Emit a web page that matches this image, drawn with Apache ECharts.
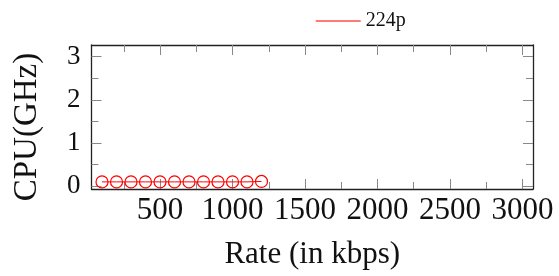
<!DOCTYPE html>
<html>
<head>
<meta charset="utf-8">
<script src="https://cdn.jsdelivr.net/npm/echarts@6/dist/echarts.min.js"></script>
<style>
  html, body { margin: 0; padding: 0; background: #fff; }
  #main { width: 559px; height: 276px; }
</style>
</head>
<body>
<div id="main"></div>
<script>
// 数据：码率 (kbps) 与 CPU 占用 (GHz)
var rates = [100, 200, 300, 400, 500, 600, 700, 800, 900, 1000, 1100, 1200];
var cpu224 = [0.1, 0.1, 0.1, 0.1, 0.1, 0.1, 0.1, 0.1, 0.1, 0.1, 0.1, 0.11];
var xMajor = [500, 1000, 1500, 2000, 2500, 3000];
var xMinor = [250, 750, 1250, 1750, 2250, 2750];
var yMajor = [0, 1, 2, 3];
var yMinor = [0.5, 1.5, 2.5];

var serif = 'Liberation Serif';
var xRange = { min: 27.5, max: 3072.5 };
var yRange = { min: -0.065, max: 3.27 };

// 生成一条只画刻度的辅助轴
function tickAxis(range, pos, values, len, showLine) {
    return {
        type: 'value',
        position: pos,
        min: range.min,
        max: range.max,
        axisLine: { show: showLine, onZero: false, lineStyle: { color: '#222', width: 1.3 } },
        axisTick: { show: true, inside: true, length: len, customValues: values,
            lineStyle: { color: '#888', width: 1 } },
        axisLabel: { show: false },
        splitLine: { show: false }
    };
}

function plain(v) { return String(v); }

var chart = echarts.init(document.getElementById('main'));

var xMain = tickAxis(xRange, 'bottom', xMajor, 10, true);
xMain.axisLabel = { show: true, customValues: xMajor, margin: 6, formatter: plain,
    fontFamily: serif, fontSize: 31, color: '#111' };
xMain.name = 'Rate (in kbps)';
xMain.nameLocation = 'middle';
xMain.nameGap = 50;
xMain.nameTextStyle = { fontFamily: serif, fontSize: 31, color: '#111' };

var yMain = tickAxis(yRange, 'left', yMajor, 10, true);
yMain.axisLabel = { show: true, customValues: yMajor, margin: 11, formatter: plain,
    fontFamily: serif, fontSize: 27, color: '#111' };
yMain.name = 'CPU(GHz)';
yMain.nameLocation = 'middle';
yMain.nameGap = 48;
yMain.nameTextStyle = { fontFamily: serif, fontSize: 33, color: '#111', padding: [0, 20, 0, 0] };

var option = {
    animation: false,
    grid: { left: 91.5, right: 26, top: 45, bottom: 87, containLabel: false },
    legend: {
        data: ['224p'],
        left: 315,
        top: 11,
        padding: 0,
        itemWidth: 45,
        itemHeight: 14,
        itemGap: 7,
        itemStyle: { opacity: 0 },
        lineStyle: { color: '#ff4d4d', width: 1.5 },
        textStyle: { fontFamily: serif, fontSize: 20, color: '#111' }
    },
    xAxis: [
        xMain,
        tickAxis(xRange, 'bottom', xMinor, 7, false),
        tickAxis(xRange, 'top', xMajor, 10, true),
        tickAxis(xRange, 'top', xMinor, 7, false)
    ],
    yAxis: [
        yMain,
        tickAxis(yRange, 'left', yMinor, 7, false),
        tickAxis(yRange, 'right', yMajor, 10, true),
        tickAxis(yRange, 'right', yMinor, 7, false)
    ],
    series: [{
        name: '224p',
        type: 'line',
        xAxisIndex: 0,
        yAxisIndex: 0,
        data: rates.map(function (r, i) { return [r, cpu224[i]]; }),
        symbol: 'circle',
        symbolSize: 12,
        lineStyle: { color: '#ff0000', width: 1 },
        itemStyle: { color: 'rgba(255,255,255,0)', borderColor: '#ff0000', borderWidth: 1.2 }
    }]
};
chart.setOption(option);
</script>
</body>
</html>
